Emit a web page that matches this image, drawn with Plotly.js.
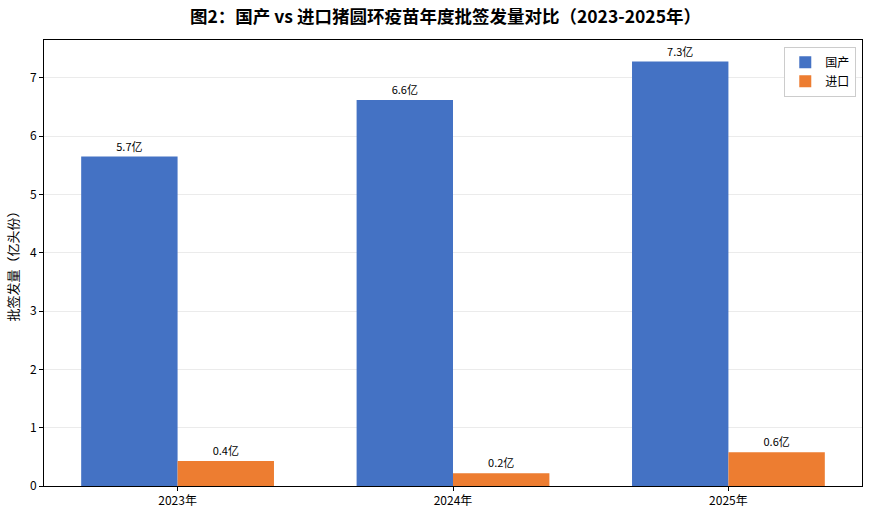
<!DOCTYPE html>
<html>
<head>
<meta charset="utf-8">
<script src="https://cdn.plot.ly/plotly-3.0.1.min.js"></script>
<style>
  html, body { margin: 0; padding: 0; background: #fff; }
  #chart { width: 870px; height: 517px; }
</style>
</head>
<body>
<div id="chart"></div>
<script>
// ----------------------------- data ------------------------------------------
var years = ["2023年", "2024年", "2025年"];
var domestic = [5.65, 6.62, 7.28];
var imported = [0.43, 0.22, 0.58];
var domesticLabels = ["5.7亿", "6.6亿", "7.3亿"];
var importedLabels = ["0.4亿", "0.2亿", "0.6亿"];
// =============================================================================

var FONT = "Noto Sans CJK SC, Microsoft YaHei, sans-serif";

function barTrace(name, ys, labels, color) {
  return {
    type: "bar",
    name: name,
    x: years,
    y: ys,
    text: labels,
    textposition: "outside",
    cliponaxis: false,
    textfont: { family: FONT, size: 11, color: "#000" },
    marker: { color: color, line: { width: 0 } },
    hoverinfo: "name+y"
  };
}

var data = [
  barTrace("国产", domestic, domesticLabels, "#4472C4"),
  barTrace("进口", imported, importedLabels, "#ED7D31")
];

var layout = {
  width: 870,
  height: 517,
  margin: { l: 44, r: 8, t: 40, b: 31 },
  paper_bgcolor: "#fff",
  plot_bgcolor: "#fff",
  font: { family: FONT, size: 12, color: "#000" },
  title: {
    text: "<b>图2：国产 vs 进口猪圆环疫苗年度批签发量对比（2023-2025年）</b>",
    font: { family: FONT, size: 17.5, color: "#000" },
    x: 0.512, xanchor: "center",
    y: 0.967, yanchor: "middle"
  },
  barmode: "group",
  bargap: 0.3,
  bargroupgap: 0,
  xaxis: {
    type: "category",
    range: [-0.485, 2.485],
    showgrid: false,
    showline: true, linecolor: "#000", linewidth: 1, mirror: true,
    ticks: "outside", ticklen: 4, tickcolor: "#000",
    tickfont: { family: FONT, size: 12 }
  },
  yaxis: {
    range: [0, 7.65],
    dtick: 1,
    showgrid: true, gridcolor: "rgba(0,0,0,0.08)", gridwidth: 1,
    zeroline: false,
    showline: true, linecolor: "#000", linewidth: 1, mirror: true,
    ticks: "outside", ticklen: 4, tickcolor: "#000",
    tickfont: { family: FONT, size: 12 },
    title: { text: "批签发量（亿头份）", font: { family: FONT, size: 13 }, standoff: 8 }
  },
  legend: {
    x: 0.993, xanchor: "right",
    y: 0.985, yanchor: "top",
    bgcolor: "#fff",
    bordercolor: "#ccc", borderwidth: 1,
    font: { family: FONT, size: 12 },
    traceorder: "normal"
  },
  showlegend: true
};

Plotly.newPlot("chart", data, layout, { displayModeBar: false, staticPlot: true });
</script>
</body>
</html>
